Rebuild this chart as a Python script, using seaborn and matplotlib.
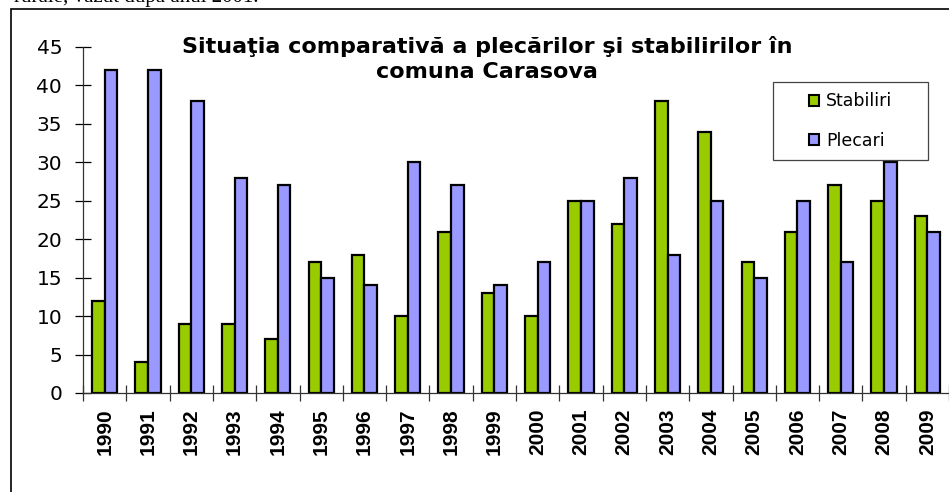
import pandas as pd
import matplotlib
matplotlib.use("Agg")
import matplotlib.pyplot as plt
import matplotlib.patches as mpatches
import seaborn as sns

years = [str(y) for y in range(1990, 2010)]
stabiliri = [12, 4, 9, 9, 7, 17, 18, 10, 21, 13, 10, 25, 22, 38, 34, 17, 21, 27, 25, 23]
plecari = [42, 42, 38, 28, 27, 15, 14, 30, 27, 14, 17, 25, 28, 18, 25, 15, 25, 17, 30, 21]

df = pd.DataFrame({"An": years * 2,
                   "Valoare": stabiliri + plecari,
                   "Serie": ["Stabiliri"] * 20 + ["Plecari"] * 20})

sns.set_style("white")
plt.rcParams['font.family'] = ['DejaVu Sans']
plt.rcParams.update({"text.color": "black", "xtick.color": "black",
                     "ytick.color": "black", "axes.labelcolor": "black"})

W, H = 949, 492
fig = plt.figure(figsize=(W / 100, H / 100), dpi=100)
ax = fig.add_axes([83 / W, 1 - 393 / H, 1 - 83 / W, (393 - 47) / H])

sns.barplot(data=df, x="An", y="Valoare", hue="Serie", ax=ax,
            palette={"Stabiliri": "#99CC00", "Plecari": "#9999FF"},
            width=0.58, gap=0, edgecolor="black", linewidth=1.6,
            saturation=1, errorbar=None)

ax.set_ylim(0, 45)
ax.set_xlim(-0.5, 19.5)
ax.set_yticks(range(0, 46, 5))
ax.set_xticks(range(20))
ax.set_xticklabels(years, rotation=90, fontsize=15, fontweight="bold",
                   family=["Liberation Sans", "DejaVu Sans"])
ax.tick_params(axis="y", labelsize=14.5, direction="inout", length=12, width=0.9,
               pad=9, left=True, colors="black")
ax.tick_params(axis="x", length=0, pad=11, colors="black")
# tick marks between categories
ax.set_xticks([i + 0.5 for i in range(-1, 20)], minor=True)
ax.tick_params(axis="x", which="minor", direction="inout", length=11, width=0.9,
               bottom=True, color="#333333")
ax.set_xlabel("")
ax.set_ylabel("")
for s in ["top", "right"]:
    ax.spines[s].set_visible(False)
for s in ["left", "bottom"]:
    ax.spines[s].set_color("#333333")
    ax.spines[s].set_linewidth(0.9)

fig.text(487 / W, 1 - 59 / H,
         "Situaţia comparativă a plecărilor şi stabilirilor în\ncomuna Carasova",
         fontsize=16, fontweight="bold", ha="center", va="center",
         linespacing=1.35, color="black")

# legend: box drawn separately, entries centred in it
leg = ax.legend(loc="center", bbox_to_anchor=((773 + 928) / 2 / W, 1 - 121 / H),
                bbox_transform=fig.transFigure, fontsize=12.5, frameon=False,
                handlelength=0.6, handleheight=0.6, handletextpad=0.4,
                labelspacing=1.25, borderpad=0)
for h in leg.legend_handles:
    h.set_linewidth(1.5)
fig.patches.append(mpatches.Rectangle((773 / W, 1 - 160 / H), 155 / W, 78 / H,
                                      transform=fig.transFigure, fill=False,
                                      edgecolor="#444444", linewidth=0.9))

# outer chart frame and clipped caption text above
fig.patches.append(mpatches.Rectangle((11 / W, -0.2), 1.2, 1.2 - 9 / H,
                                      transform=fig.transFigure, fill=False,
                                      edgecolor="black", linewidth=1.2))
fig.text(14 / W, 1 - 2 / H, "rurale, văzut după anul 2001.",
         family=["Liberation Serif", "DejaVu Serif"], fontsize=15, va="baseline")

fig.savefig("out.png", dpi=100)
